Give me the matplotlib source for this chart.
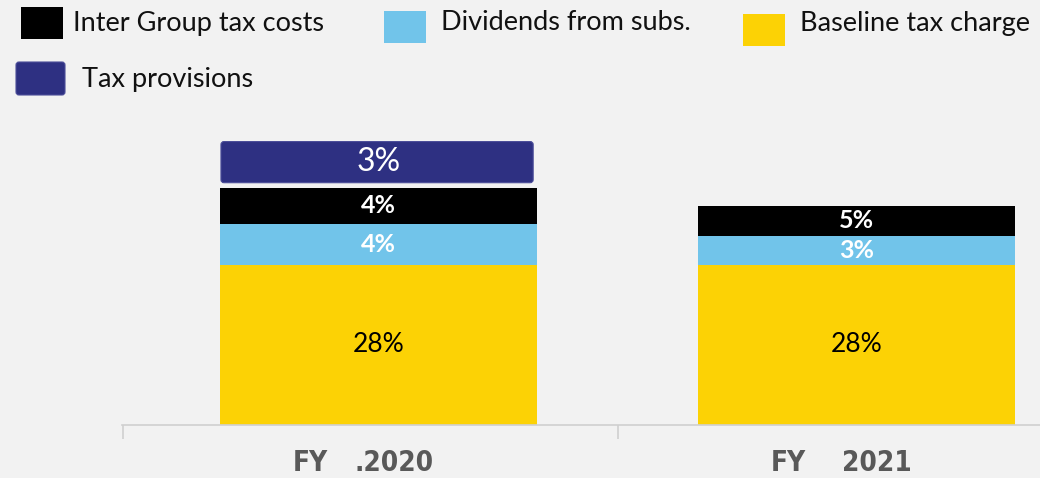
import matplotlib
matplotlib.use("Agg")
import matplotlib.pyplot as plt
from matplotlib.patches import Rectangle, FancyBboxPatch
from matplotlib.transforms import offset_copy

# data
years = ["2020", "2021"]
year_prefix = ["FY", "FY"]
year_dot = [".", ""]
series = ["Baseline tax charge", "Dividends from subs.", "Inter Group tax costs", "Tax provisions"]
# printed labels (%)
labels = {
    "Baseline tax charge": [28, 28],
    "Dividends from subs.": [4, 3],
    "Inter Group tax costs": [4, 5],
    "Tax provisions": [3, None],
}
# segment heights as drawn (the source chart is not to scale)
heights = {
    "Baseline tax charge": [28.0, 28.0],
    "Dividends from subs.": [7.2, 5.1],
    "Inter Group tax costs": [6.3, 5.25],
    "Tax provisions": [7.2, 0.0],
}
provision_gap = 0.9

colors = {
    "Baseline tax charge": "#fcd205",
    "Dividends from subs.": "#71c4ea",
    "Inter Group tax costs": "#000000",
    "Tax provisions": "#2e3082",
}
label_style = {
    "Baseline tax charge": dict(color="black", fontweight="normal", fontsize=19),
    "Dividends from subs.": dict(color="white", fontweight="bold", fontsize=18),
    "Inter Group tax costs": dict(color="white", fontweight="bold", fontsize=18),
    "Tax provisions": dict(color="white", fontweight="normal", fontsize=23),
}

BG = "#f2f2f2"
W, H = 1040, 478
plt.rcParams["font.family"] = ["Lato", "DejaVu Sans"]

fig = plt.figure(figsize=(W / 100, H / 100), dpi=100, facecolor=BG)


def fx(px):
    return px / W


def fy(py):
    return 1 - py / H


ax = fig.add_axes([fx(122), fy(425), fx(1040 - 122), 425 / H])
ax.set_facecolor(BG)
px_per_x = 478.0
px_per_unit = 160 / 28.0
ax.set_xlim(-(378.5 - 122) / px_per_x, (1040 - 378.5) / px_per_x)
ax.set_ylim(0, 425 / px_per_unit)

x = list(range(len(years)))
bar_w = 317 / px_per_x
bottoms = [0.0] * len(years)
for name in series:
    h = heights[name]
    for i in x:
        if h[i] <= 0:
            continue
        if name == "Tax provisions":
            b = bottoms[i] + provision_gap
            r = 3 / px_per_x
            ax.add_patch(FancyBboxPatch((i - bar_w / 2 + 0.002, b), bar_w - 0.01, h[i],
                                        boxstyle=f"round,pad=0,rounding_size={r}",
                                        mutation_aspect=px_per_x / px_per_unit,
                                        facecolor=colors[name], edgecolor="#4b4d99",
                                        linewidth=0.8))
        else:
            b = bottoms[i]
            ax.bar(i, h[i], bottom=b, width=bar_w, color=colors[name], linewidth=0)
        lab = labels[name][i]
        if lab is not None:
            ax.text(i, b + h[i] / 2, f"{lab}%", ha="center", va="center",
                    **label_style[name])
        bottoms[i] = b + h[i]

for s in ["top", "right", "left"]:
    ax.spines[s].set_visible(False)
ax.spines["bottom"].set_color("#d0d0d0")
ax.spines["bottom"].set_linewidth(1.2)
ax.set_yticks([])
ax.set_xticks([ax.get_xlim()[0] + 0.002, 0.5])
ax.set_xticklabels([])
ax.tick_params(axis="x", length=10, width=1.2, color="#d0d0d0")

# category labels
cat_kw = dict(fontsize=20, fontweight="bold", color="#595959",
              family="DejaVu Sans", fontstretch="condensed", va="center", clip_on=False)
for i in x:
    t = offset_copy(ax.transData, fig=fig, x=-68, y=-38, units="dots")
    ax.text(i, 0, year_prefix[i], transform=t, ha="center", **cat_kw)
    t2 = offset_copy(ax.transData, fig=fig, x=55, y=-38, units="dots")
    ax.text(i, 0, year_dot[i] + years[i], transform=t2, ha="right", **cat_kw)

# legend, laid out like the source slide
legend_items = [
    ("Inter Group tax costs", 21, 7, 42, 32, 73, 23),
    ("Dividends from subs.", 384, 11, 42, 32, 441, 23),
    ("Baseline tax charge", 743, 14, 42, 32, 800, 23),
    ("Tax provisions", 16, 62, 49, 33, 82, 80),
]
for name, sx, sy, sw, sh, tx, ty in legend_items:
    if name == "Tax provisions":
        patch = FancyBboxPatch((fx(sx), fy(sy + sh)), fx(sw), sh / H,
                               boxstyle=f"round,pad=0,rounding_size={fx(3)}",
                               mutation_aspect=W / H,
                               transform=fig.transFigure, facecolor=colors[name],
                               edgecolor="#4b4d99", linewidth=0.8)
    else:
        patch = Rectangle((fx(sx), fy(sy + sh)), fx(sw), sh / H,
                          transform=fig.transFigure, facecolor=colors[name],
                          edgecolor="none")
    fig.add_artist(patch)
    fig.text(fx(tx), fy(ty), name, ha="left", va="center", fontsize=19.5, color="#111111")

fig.savefig("out.png", dpi=100, facecolor=BG)
